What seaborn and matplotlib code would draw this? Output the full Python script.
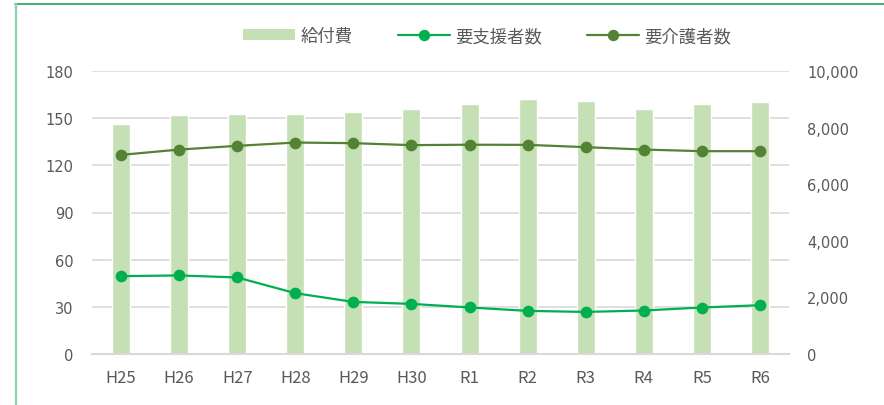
import matplotlib
matplotlib.use('Agg')
import matplotlib.pyplot as plt
import seaborn as sns
import pandas as pd
from matplotlib.lines import Line2D
from matplotlib.patches import Patch
from matplotlib.ticker import FuncFormatter

# data
years = ['H25', 'H26', 'H27', 'H28', 'H29', 'H30', 'R1', 'R2', 'R3', 'R4', 'R5', 'R6']
kyufuhi = [146.2, 152.1, 152.8, 152.8, 154.2, 156.0, 159.0, 161.9, 161.0, 156.0, 159.0, 160.0]
yoshien = [2751, 2776, 2705, 2149, 1841, 1771, 1645, 1523, 1487, 1537, 1643, 1724]
yokaigo = [7036, 7224, 7355, 7472, 7450, 7380, 7395, 7390, 7309, 7224, 7167, 7167]

BAR_COLOR = '#c5e0b4'
SHIEN_COLOR = '#00b050'
KAIGO_COLOR = '#548235'
GRID_COLOR = '#d9d9d9'
TEXT_COLOR = '#595959'
JP_FONT = ['Noto Sans CJK JP', 'DejaVu Sans']

sns.set_style('white')
plt.rcParams['font.family'] = JP_FONT

df = pd.DataFrame({'year': years, 'kyufuhi': kyufuhi,
                   'yoshien': yoshien, 'yokaigo': yokaigo})

fig = plt.figure(figsize=(8.84, 4.06), dpi=100)
ax = fig.add_axes([92 / 884, 1 - 355 / 406, 697 / 884, 283 / 406])
ax2 = ax.twinx()

sns.barplot(data=df, x='year', y='kyufuhi', color=BAR_COLOR, width=0.31,
            saturation=1, ax=ax, zorder=2)
sns.pointplot(data=df, x='year', y='yoshien', color=SHIEN_COLOR, ax=ax2,
              markers='o', markersize=7.2, linewidth=1.6)
sns.pointplot(data=df, x='year', y='yokaigo', color=KAIGO_COLOR, ax=ax2,
              markers='o', markersize=7.2, linewidth=1.6)

ax.set_ylim(0, 180)
ax.set_yticks(range(0, 181, 30))
ax2.set_ylim(0, 10000)
ax2.set_yticks(range(0, 10001, 2000))
ax2.yaxis.set_major_formatter(FuncFormatter(lambda v, p: f'{int(v):,}'))
ax.set_xlim(-0.5, len(years) - 0.5)

ax.yaxis.grid(True, color=GRID_COLOR, linewidth=1.2, zorder=0)
ax.set_axisbelow(True)
ax2.grid(False)

for a in (ax, ax2):
    for s in a.spines.values():
        s.set_visible(False)
    a.set_xlabel('')
    a.set_ylabel('')
ax.spines['bottom'].set_visible(True)
ax.spines['bottom'].set_color(GRID_COLOR)
ax.spines['bottom'].set_linewidth(1.5)

ax.tick_params(axis='y', length=0, pad=13.5, labelsize=10.5, labelcolor=TEXT_COLOR)
ax2.tick_params(axis='y', length=0, pad=13, labelsize=10.5, labelcolor=TEXT_COLOR)
ax.tick_params(axis='x', length=0, pad=11, labelsize=12, labelcolor=TEXT_COLOR)
for lbl in ax.get_yticklabels() + ax2.get_yticklabels():
    lbl.set_fontfamily('DejaVu Sans')

handles = [
    Patch(facecolor=BAR_COLOR, edgecolor='none'),
    Line2D([], [], color=SHIEN_COLOR, lw=1.6, marker='o', markersize=7.2),
    Line2D([], [], color=KAIGO_COLOR, lw=1.6, marker='o', markersize=7.2),
]
fig.legend(handles, ['給付費', '要支援者数', '要介護者数'], loc='center',
           bbox_to_anchor=(487 / 884, 1 - 37 / 406), ncol=3, frameon=False,
           fontsize=12.5, handlelength=3.0, handleheight=0.6, handletextpad=0.3,
           columnspacing=2.6, labelcolor=TEXT_COLOR)

# outer border of the original chart frame
fig.add_artist(Line2D([15 / 884, 1], [1 - 5 / 406, 1 - 5 / 406],
                      transform=fig.transFigure, color='#22a454', lw=1.2))
fig.add_artist(Line2D([16 / 884, 16 / 884], [0, 1 - 5 / 406],
                      transform=fig.transFigure, color='#86d3a6', lw=1.6))

fig.savefig('out.png', dpi=100)
